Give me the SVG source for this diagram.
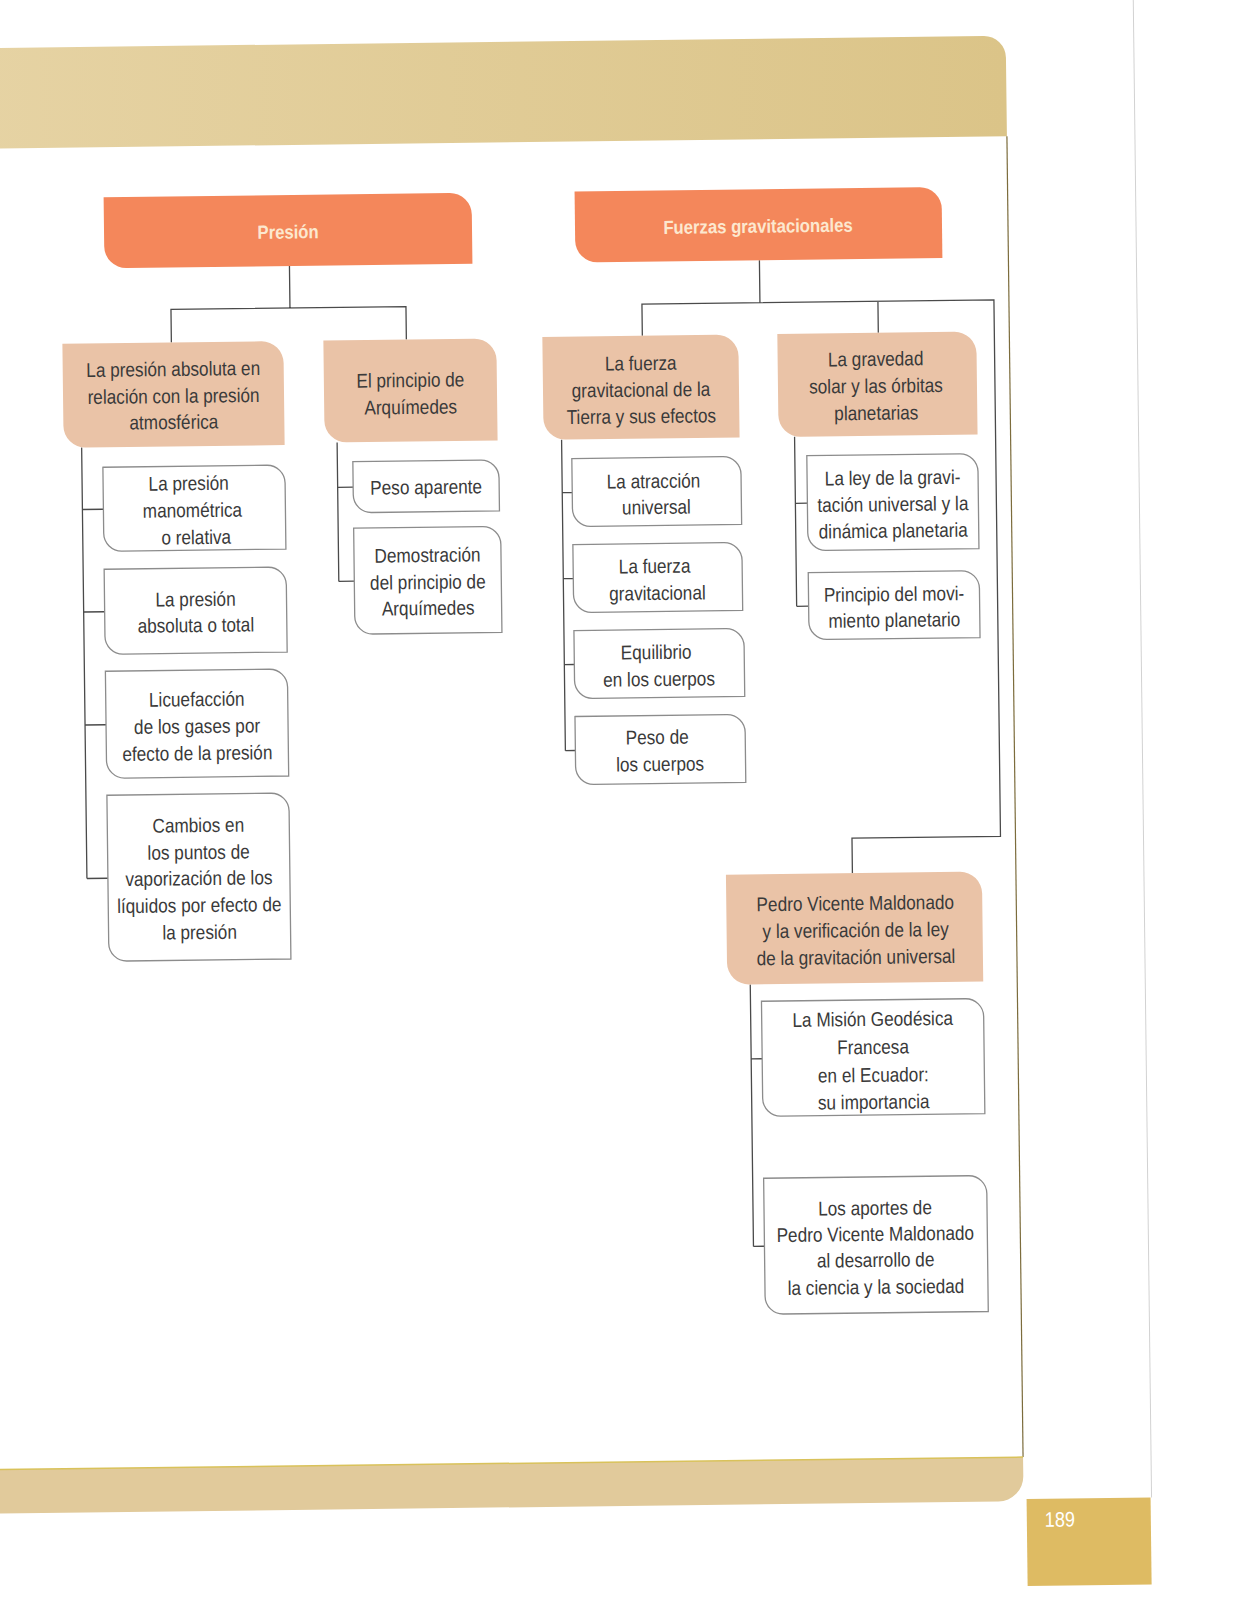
<svg xmlns="http://www.w3.org/2000/svg" width="1236" height="1600" viewBox="0 0 1236 1600">
<defs>
<linearGradient id="band" x1="0" y1="0" x2="1" y2="0">
<stop offset="0" stop-color="#E6D3A4"/>
<stop offset="1" stop-color="#DBC488"/>
</linearGradient>
<style>
.hdr{fill:#F4875B}
.cat{fill:#EAC3A7}
.sub{fill:#fff;stroke:#8c8c8c;stroke-width:1.3}
.ln{fill:none;stroke:#4a4a4a;stroke-width:1.3}
.t{font-family:"Liberation Sans",Arial,sans-serif;font-size:20px;fill:#3a3a3a;text-anchor:middle}
.th{font-family:"Liberation Sans",Arial,sans-serif;font-size:19px;font-weight:bold;fill:#FCE8CF;text-anchor:middle}
.pg{font-family:"Liberation Sans",Arial,sans-serif;font-size:21px;fill:#ffffff;text-anchor:middle}
</style>
</defs>
<rect x="0" y="0" width="1236" height="1600" fill="#ffffff"/>
<g transform="rotate(-0.7 618 800)">
<g id="page">
<path d="M-30 40.5 H993 A22 22 0 0 1 1015 62.5 V141 H-30 Z" fill="url(#band)"/>
<path d="M1015 141 V1462" fill="none" stroke="#7c6c3c" stroke-width="1.2"/>
<path d="M-30 1462 H1015 V1481 A25 25 0 0 1 990 1506 H-30 Z" fill="#E1CA9B"/>
<path d="M-30 1462 H1015" fill="none" stroke="#D9C25A" stroke-width="1.5"/>
<path d="M1143 -20 V1504" fill="none" stroke="#d2d2d2" stroke-width="1"/>
<rect x="1018" y="1504" width="124" height="87" fill="#DEBB63"/>
<text class="pg" transform="translate(1051,0) scale(0.86,1)" x="0" y="1532">189</text>
</g>
<g id="connectors">
<path class="ln" d="M296 262 V304 M177 337 V304 H412 V337"/>
<path class="ln" d="M766 262 V304.5 M648 336 V304.5 H1000 V841 H851.5 V876 M884 304.5 V336"/>
<path class="ln" d="M86 441 V872 M86 503 H107 M86 605.5 H107 M86 718.5 H107 M86 872 H107"/>
<path class="ln" d="M341.5 439 V578 M341.5 484 H357 M341.5 578 H357"/>
<path class="ln" d="M566 439 V750 M566 492 H576 M566 578 H576 M566 664 H576 M566 750 H576"/>
<path class="ln" d="M799 439 V608.5 M799 505.5 H811 M799 608.5 H811"/>
<path class="ln" d="M748 986 V1248 M748 1060.5 H759 M748 1248 H759"/>
</g>
<g id="n-presion">
<path class="hdr" d="M111 191 H457 A22 22 0 0 1 479 213 V262 H133 A22 22 0 0 1 111 240 Z"/>
<text class="th" transform="translate(295,0) scale(0.88,1)" x="0" y="234.5">Presión</text>
</g>
<g id="n-fuerzas">
<path class="hdr" d="M582 191 H927 A22 22 0 0 1 949 213 V262 H604 A22 22 0 0 1 582 240 Z"/>
<text class="th" transform="translate(765,0) scale(0.88,1)" x="0" y="234.5">Fuerzas gravitacionales</text>
</g>
<g id="n-absoluta-atm">
<path class="cat" d="M68 337 H267 A22 22 0 0 1 289 359 V441 H90 A22 22 0 0 1 68 419 Z"/>
<text class="t" transform="translate(178.5,0) scale(0.86,1)"><tspan x="0" y="370.6">La presión absoluta en</tspan><tspan x="0" y="397.6">relación con la presión</tspan><tspan x="0" y="423.6">atmosférica</tspan></text>
</g>
<g id="n-arquimedes">
<path class="cat" d="M329 337 H480 A22 22 0 0 1 502 359 V439 H351 A22 22 0 0 1 329 417 Z"/>
<text class="t" transform="translate(415.5,0) scale(0.86,1)"><tspan x="0" y="384.5">El principio de</tspan><tspan x="0" y="411.5">Arquímedes</tspan></text>
</g>
<g id="n-manometrica">
<path class="sub" d="M107 461 H271 A18 18 0 0 1 289 479 V545 H125 A18 18 0 0 1 107 527 Z"/>
<text class="t" transform="translate(196,0) scale(0.86,1)"><tspan x="-4" y="485">La presión</tspan><tspan x="0" y="512">manométrica</tspan><tspan x="4" y="539">o relativa</tspan></text>
</g>
<g id="n-absoluta-total">
<path class="sub" d="M107 563 H271 A18 18 0 0 1 289 581 V648 H125 A18 18 0 0 1 107 630 Z"/>
<text class="t" transform="translate(198,0) scale(0.86,1)"><tspan x="0" y="601">La presión</tspan><tspan x="0" y="627">absoluta o total</tspan></text>
</g>
<g id="n-licuefaccion">
<path class="sub" d="M107 665 H271 A18 18 0 0 1 289 683 V772 H125 A18 18 0 0 1 107 754 Z"/>
<text class="t" transform="translate(198,0) scale(0.86,1)"><tspan x="0" y="701">Licuefacción</tspan><tspan x="0" y="728">de los gases por</tspan><tspan x="0" y="755">efecto de la presión</tspan></text>
</g>
<g id="n-cambios">
<path class="sub" d="M107 789 H271 A18 18 0 0 1 289 807 V955 H125 A18 18 0 0 1 107 937 Z"/>
<text class="t" transform="translate(198,0) scale(0.86,1)"><tspan x="0" y="827">Cambios en</tspan><tspan x="0" y="854">los puntos de</tspan><tspan x="0" y="880">vaporización de los</tspan><tspan x="0" y="907">líquidos por efecto de</tspan><tspan x="0" y="934">la presión</tspan></text>
</g>
<g id="n-peso-aparente">
<path class="sub" d="M357 458.5 H485 A18 18 0 0 1 503 476.5 V509.5 H375 A18 18 0 0 1 357 491.5 Z"/>
<text class="t" transform="translate(430,0) scale(0.86,1)"><tspan x="0" y="491.7">Peso aparente</tspan></text>
</g>
<g id="n-demostracion">
<path class="sub" d="M357 525 H486 A18 18 0 0 1 504 543 V631 H375 A18 18 0 0 1 357 613 Z"/>
<text class="t" transform="translate(430.5,0) scale(0.86,1)"><tspan x="0" y="559.7">Demostración</tspan><tspan x="0" y="586.7">del principio de</tspan><tspan x="0" y="612.7">Arquímedes</tspan></text>
</g>
<g id="n-fuerza-tierra">
<path class="cat" d="M548 336 H722 A22 22 0 0 1 744 358 V439 H570 A22 22 0 0 1 548 417 Z"/>
<text class="t" transform="translate(646,0) scale(0.86,1)"><tspan x="0" y="370.5">La fuerza</tspan><tspan x="0" y="397">gravitacional de la</tspan><tspan x="0" y="423.5">Tierra y sus efectos</tspan></text>
</g>
<g id="n-gravedad-solar">
<path class="cat" d="M783 336 H960 A22 22 0 0 1 982 358 V439 H805 A22 22 0 0 1 783 417 Z"/>
<text class="t" transform="translate(881,0) scale(0.86,1)"><tspan x="0" y="369">La gravedad</tspan><tspan x="0" y="396">solar y las órbitas</tspan><tspan x="0" y="423">planetarias</tspan></text>
</g>
<g id="n-atraccion">
<path class="sub" d="M576 458 H727 A18 18 0 0 1 745 476 V526 H594 A18 18 0 0 1 576 508 Z"/>
<text class="t" transform="translate(660,0) scale(0.86,1)"><tspan x="-3" y="488.5">La atracción</tspan><tspan x="0" y="514.5">universal</tspan></text>
</g>
<g id="n-fuerza-grav">
<path class="sub" d="M576 544 H727 A18 18 0 0 1 745 562 V612 H594 A18 18 0 0 1 576 594 Z"/>
<text class="t" transform="translate(660,0) scale(0.86,1)"><tspan x="-3" y="573.5">La fuerza</tspan><tspan x="0" y="600.5">gravitacional</tspan></text>
</g>
<g id="n-equilibrio">
<path class="sub" d="M576 630 H728 A18 18 0 0 1 746 648 V698 H594 A18 18 0 0 1 576 680 Z"/>
<text class="t" transform="translate(660.5,0) scale(0.86,1)"><tspan x="-3" y="659.5">Equilibrio</tspan><tspan x="0" y="686.5">en los cuerpos</tspan></text>
</g>
<g id="n-peso-cuerpos">
<path class="sub" d="M576 716 H728 A18 18 0 0 1 746 734 V784 H594 A18 18 0 0 1 576 766 Z"/>
<text class="t" transform="translate(660.5,0) scale(0.86,1)"><tspan x="-3" y="744.5">Peso de</tspan><tspan x="0" y="771.5">los cuerpos</tspan></text>
</g>
<g id="n-ley-gravitacion">
<path class="sub" d="M811 458 H964 A18 18 0 0 1 982 476 V553 H829 A18 18 0 0 1 811 535 Z"/>
<text class="t" transform="translate(896.5,0) scale(0.86,1)"><tspan x="0" y="488">La ley de la gravi-</tspan><tspan x="0" y="514.5">tación universal y la</tspan><tspan x="0" y="541">dinámica planetaria</tspan></text>
</g>
<g id="n-movimiento">
<path class="sub" d="M811 575 H964 A18 18 0 0 1 982 593 V642 H829 A18 18 0 0 1 811 624 Z"/>
<text class="t" transform="translate(896.5,0) scale(0.86,1)"><tspan x="0" y="604.4">Principio del movi-</tspan><tspan x="0" y="630.4">miento planetario</tspan></text>
</g>
<g id="n-maldonado">
<path class="cat" d="M725 876 H959 A22 22 0 0 1 981 898 V986 H747 A22 22 0 0 1 725 964 Z"/>
<text class="t" transform="translate(854,0) scale(0.86,1)"><tspan x="0" y="913">Pedro Vicente Maldonado</tspan><tspan x="0" y="940">y la verificación de la ley</tspan><tspan x="0" y="967">de la gravitación universal</tspan></text>
</g>
<g id="n-mision">
<path class="sub" d="M759 1003 H963 A18 18 0 0 1 981 1021 V1118 H777 A18 18 0 0 1 759 1100 Z"/>
<text class="t" transform="translate(870,0) scale(0.86,1)"><tspan x="0" y="1029">La Misión Geodésica</tspan><tspan x="0" y="1057">Francesa</tspan><tspan x="0" y="1085">en el Ecuador:</tspan><tspan x="0" y="1112">su importancia</tspan></text>
</g>
<g id="n-aportes">
<path class="sub" d="M759 1180 H964 A18 18 0 0 1 982 1198 V1316 H777 A18 18 0 0 1 759 1298 Z"/>
<text class="t" transform="translate(870,0) scale(0.86,1)"><tspan x="0" y="1218">Los aportes de</tspan><tspan x="0" y="1244">Pedro Vicente Maldonado</tspan><tspan x="0" y="1270">al desarrollo de</tspan><tspan x="0" y="1297">la ciencia y la sociedad</tspan></text>
</g>
</g>
</svg>
